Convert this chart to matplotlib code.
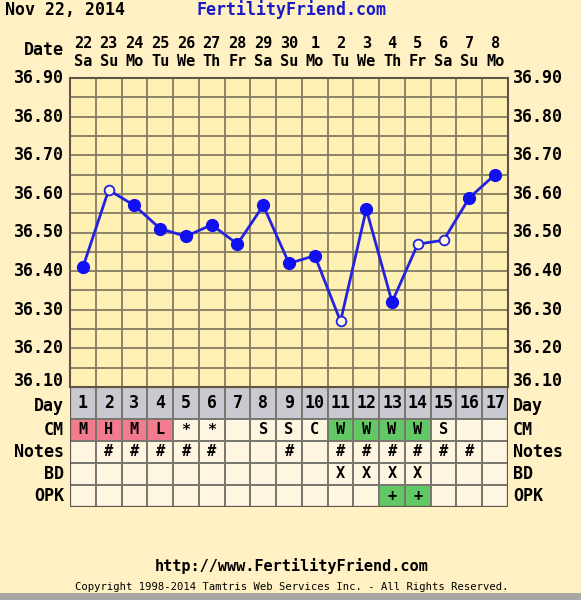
import matplotlib
matplotlib.use('Agg')
import matplotlib.pyplot as plt
from matplotlib.patches import Rectangle
import numpy as np

# chart data
dates = ['22', '23', '24', '25', '26', '27', '28', '29', '30', '1', '2', '3', '4', '5', '6', '7', '8']
weekdays = ['Sa', 'Su', 'Mo', 'Tu', 'We', 'Th', 'Fr', 'Sa', 'Su', 'Mo', 'Tu', 'We', 'Th', 'Fr', 'Sa', 'Su', 'Mo']
temps = [36.41, 36.61, 36.57, 36.51, 36.49, 36.52, 36.47, 36.57, 36.42, 36.44,
         36.27, 36.56, 36.32, 36.47, 36.48, 36.59, 36.65]
open_marker = [False, True, False, False, False, False, False, False, False, False,
               True, False, False, True, True, False, False]
cm_vals = ['M', 'H', 'M', 'L', '*', '*', '', 'S', 'S', 'C', 'W', 'W', 'W', 'W', 'S', '', '']
notes = ['', '#', '#', '#', '#', '#', '', '', '#', '', '#', '#', '#', '#', '#', '#', '']
bd = ['', '', '', '', '', '', '', '', '', '', 'X', 'X', 'X', 'X', '', '', '']
opk = ['', '', '', '', '', '', '', '', '', '', '', '', '+', '+', '', '', '']
yticks = [36.10, 36.20, 36.30, 36.40, 36.50, 36.60, 36.70, 36.80, 36.90]
row_names = ['Day', 'CM', 'Notes', 'BD', 'OPK']

W, H = 581, 600
BG = '#fff1c4'
PLOT_BG = '#fff0b4'
CELL_BG = '#fff6e2'
GRID = '#857b62'
BLUE = '#2222e0'
FONT = 'DejaVu Sans Mono'

fig = plt.figure(figsize=(W / 100, H / 100), dpi=100)
fig.patch.set_facecolor(BG)

def px(x0, y0, x1, y1):
    # pixel box (top-left origin) -> figure fraction rect
    return [x0 / W, 1 - y1 / H, (x1 - x0) / W, (y1 - y0) / H]

L, R = 70, 508
TOP, BOT = 78, 387
n = len(dates)

# temperature chart
ax = fig.add_axes(px(L, TOP, R, BOT))
ax.set_facecolor(PLOT_BG)
ax.set_xlim(0, n)
ax.set_ylim(36.10, 36.90)
for i in range(1, n):
    ax.axvline(i, color=GRID, lw=1.3, zorder=1)
for v in np.arange(36.15, 36.90, 0.05):
    ax.axhline(v, color=GRID, lw=1.3, zorder=1)
for s in ax.spines.values():
    s.set_color('#5e5648')
    s.set_linewidth(1.5)
ax.set_xticks([])
ax.set_yticks([])

xs = np.arange(n) + 0.5
ax.plot(xs, temps, color=BLUE, lw=2.0, zorder=3)
for x, t, o in zip(xs, temps, open_marker):
    if o:
        ax.plot(x, t, 'o', ms=7, mfc='#fff8e0', mec=BLUE, mew=1.3, zorder=4)
    else:
        ax.plot(x, t, 'o', ms=8.5, color='#1010f0', zorder=4)

for v in yticks:
    yy = TOP + (36.90 - v) / 0.80 * (BOT - TOP)
    if v < 36.15:
        yy -= 6  # keep clear of the Day row label
    fig.text(64 / W, 1 - yy / H, '%.2f' % v, ha='right', va='center',
             family=FONT, weight='bold', fontsize=12)
    fig.text(513 / W, 1 - yy / H, '%.2f' % v, ha='left', va='center',
             family=FONT, weight='bold', fontsize=12)

# date header
fig.text(64 / W, 1 - 50 / H, 'Date', ha='right', va='center',
         family=FONT, weight='bold', fontsize=12)
cw = (R - L) / n
for i in range(n):
    cx = L + (i + 0.5) * cw
    fig.text(cx / W, 1 - 43 / H, dates[i], ha='center', va='center',
             family=FONT, weight='bold', fontsize=11)
    fig.text(cx / W, 1 - 61 / H, weekdays[i], ha='center', va='center',
             family=FONT, weight='bold', fontsize=11)

# table below chart
row_edges = [0, 32, 54, 76, 98, 120]
tb = fig.add_axes(px(L, BOT, R, BOT + row_edges[-1]))
tb.set_xlim(0, n)
tb.set_ylim(row_edges[-1], 0)
tb.axis('off')

rows = [[str(i + 1) for i in range(n)], cm_vals, notes, bd, opk]
for r, vals in enumerate(rows):
    y0, y1 = row_edges[r], row_edges[r + 1]
    for i, v in enumerate(vals):
        fc = CELL_BG
        if r == 0:
            fc = '#c9c9d1'
        elif r == 1 and v in ('M', 'H', 'L'):
            fc = '#f27b8e'
        elif (r == 1 and v == 'W') or (r == 4 and v == '+'):
            fc = '#62c865'
        tb.add_patch(Rectangle((i, y0), 1, y1 - y0, fc=fc, ec='#77776f', lw=1.4))
        if v:
            tb.text(i + 0.5, (y0 + y1) / 2, v, ha='center', va='center',
                    family=FONT, weight='bold', fontsize=12 if r == 0 else 11)
    yc = BOT + (y0 + y1) / 2
    if r == 0:
        yc += 3
    fig.text(64 / W, 1 - yc / H, row_names[r], ha='right', va='center',
             family=FONT, weight='bold', fontsize=12)
    fig.text(513 / W, 1 - yc / H, row_names[r], ha='left', va='center',
             family=FONT, weight='bold', fontsize=12)
tb.add_patch(Rectangle((0, 0), n, row_edges[-1], fc='none', ec='#5e5648', lw=1.6))

# titles / footer
fig.text(5 / W, 1 - 10 / H, 'Nov 22, 2014', ha='left', va='center',
         family=FONT, weight='bold', fontsize=12)
fig.text(292 / W, 1 - 10 / H, 'FertilityFriend.com', ha='center', va='center',
         family=FONT, weight='bold', fontsize=12, color='#1a1ac8')
fig.text(292 / W, 1 - 566 / H, 'http://www.FertilityFriend.com', ha='center', va='center',
         family=FONT, weight='bold', fontsize=11)
fig.text(292 / W, 1 - 587 / H,
         'Copyright 1998-2014 Tamtris Web Services Inc. - All Rights Reserved.',
         ha='center', va='center', family=FONT, fontsize=7.6)

# bottom shadow
fig.patches.append(Rectangle((0, 0), 1, 7 / H, transform=fig.transFigure,
                             fc='#a9a7a2', ec='none'))

fig.savefig('out.png', dpi=100, facecolor=fig.get_facecolor())
